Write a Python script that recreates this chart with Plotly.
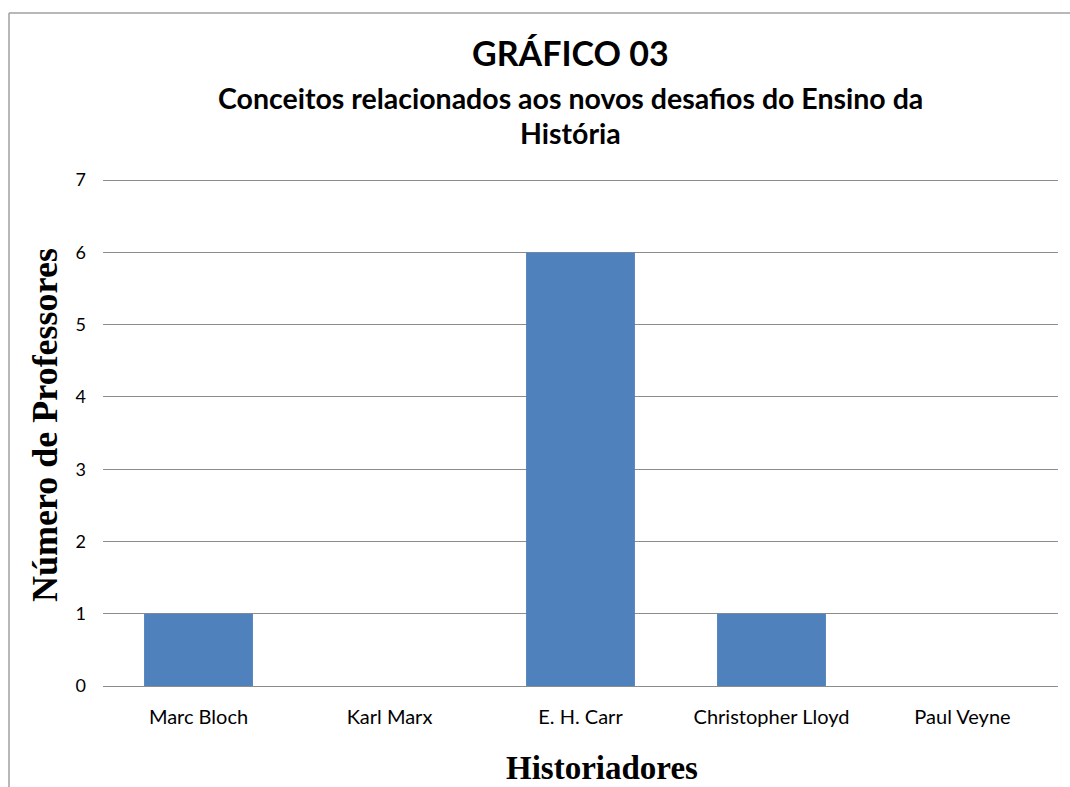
import plotly.graph_objects as go

categories = ["Marc Bloch", "Karl Marx", "E. H. Carr", "Christopher Lloyd", "Paul Veyne"]
values = [1, 0, 6, 1, 0]
y_ticks = [0, 1, 2, 3, 4, 5, 6, 7]

W, H = 1070, 787
L, R, T, B = 103, 12, 178, 101
pw = W - L - R
ph = H - T - B

def px(x):
    return (x - L) / pw

def py(y):
    return (H - B - y) / ph

fig = go.Figure(go.Bar(x=categories, y=values, marker=dict(color="#4F81BD", line=dict(width=0)), width=0.57))

fig.update_layout(
    width=W, height=H,
    margin=dict(l=L, r=R, t=T, b=B),
    paper_bgcolor="white", plot_bgcolor="white",
    showlegend=False,
    font=dict(family="Lato, Carlito, sans-serif", color="#000000"),
)
fig.update_yaxes(range=[0, 7.03], tickvals=y_ticks, showgrid=True, gridcolor="#8C8C8C", gridwidth=1,
                 zeroline=True, zerolinecolor="#8C8C8C", zerolinewidth=1, showline=False,
                 tickfont=dict(size=18, color="#000000"), ticklabelstandoff=16, fixedrange=True)
fig.update_xaxes(showgrid=False, showline=False, tickfont=dict(size=20, color="#000000"),
                 ticklabelstandoff=17, fixedrange=True)

ann = [
    dict(text="<b>GRÁFICO 03</b>", x=px(570), y=py(52), font=dict(size=34, family="Lato, sans-serif")),
    dict(text="<b>Conceitos relacionados aos novos desafios do Ensino da</b>", x=px(570), y=py(98), font=dict(size=28.5, family="Lato, sans-serif")),
    dict(text="<b>História</b>", x=px(570), y=py(133), font=dict(size=28.5, family="Lato, sans-serif")),
    dict(text="<b>Historiadores</b>", x=px(602), y=py(768), font=dict(size=33, family="Liberation Serif, Times New Roman, serif")),
    dict(text="<b>Número de Professores</b>", x=px(45), y=py(425), textangle=-90, font=dict(size=36, family="Liberation Serif, Times New Roman, serif")),
]
for a in ann:
    a.update(xref="paper", yref="paper", showarrow=False, xanchor="center", yanchor="middle")
fig.update_layout(annotations=ann)

fig.add_shape(type="line", xref="paper", yref="paper", x0=px(9), x1=px(9), y0=py(13), y1=py(790), line=dict(color="#A0A0A0", width=1.5))
fig.add_shape(type="line", xref="paper", yref="paper", x0=px(9), x1=px(1075), y0=py(13), y1=py(13), line=dict(color="#A0A0A0", width=1.5))

fig.write_html("out.html", config={"displayModeBar": False},
               post_script="document.body.style.margin='0';document.body.style.overflow='hidden';")
